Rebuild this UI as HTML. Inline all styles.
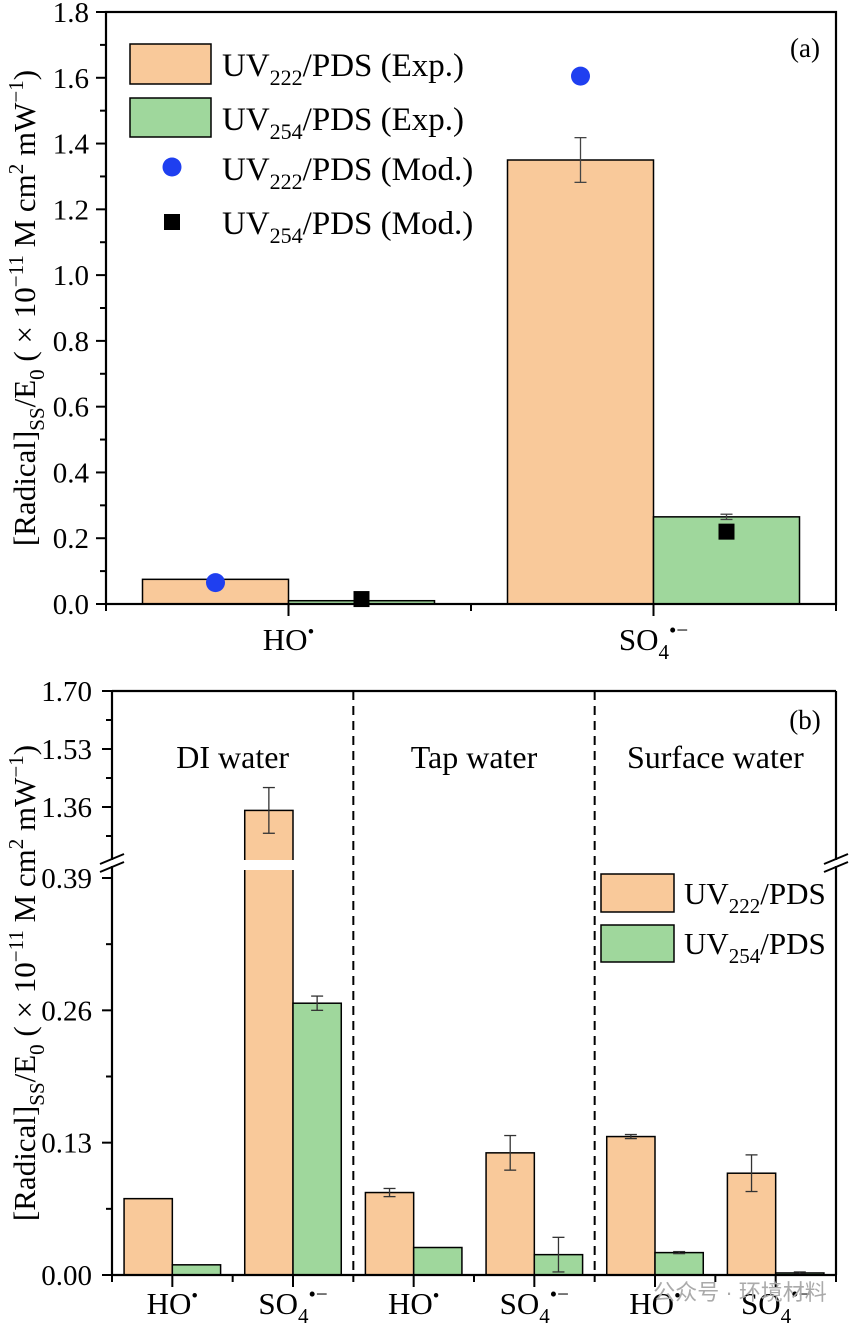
<!DOCTYPE html>
<html><head><meta charset="utf-8"><style>
html,body{margin:0;padding:0;background:#fff;}
svg{display:block;font-family:"Liberation Serif",serif;}
</style></head><body>
<svg id="chart" width="851" height="1325" viewBox="0 0 851 1325" xmlns="http://www.w3.org/2000/svg"></svg>
<script>
// Panel (a) data
const aCategories = ["HO", "SO4"];
const aExp222 = [0.075, 1.35];
const aExp222Err = [0, 0.068];
const aExp254 = [0.01, 0.265];
const aExp254Err = [0, 0.008];
const aMod222 = [0.065, 1.605];
const aMod254 = [0.015, 0.22];
const aTicks = ["0.0","0.2","0.4","0.6","0.8","1.0","1.2","1.4","1.6","1.8"];
// Panel (b) data
const bGroups = ["DI water", "Tap water", "Surface water"];
const bCategories = ["HO","SO4","HO","SO4","HO","SO4"];
const b222 = [0.075, 1.35, 0.081, 0.12, 0.136, 0.1];
const b222Err = [0, 0.067, 0.004, 0.017, 0.002, 0.018];
const b254 = [0.01, 0.267, 0.027, 0.02, 0.022, 0.002];
const b254Err = [0, 0.007, 0, 0.017, 0.001, 0.001];
const bLowTicks = ["0.00","0.13","0.26","0.39"];
const bHighTicks = ["1.36","1.53","1.70"];

const NS = "http://www.w3.org/2000/svg";
const svg = document.getElementById("chart");
const OR = "#f9c99a", GR = "#9fd79c";
function el(tag, attrs, parent){ const e=document.createElementNS(NS,tag); for(const k in attrs) e.setAttribute(k,attrs[k]); (parent||svg).appendChild(e); return e; }
function txt(x,y,html,size,anchor,parent){ const t=el("text",{x:x,y:y,"font-size":size,"text-anchor":anchor||"middle",fill:"#000"},parent); t.innerHTML=html; return t; }
const radLabel = {HO:'HO<tspan dy="-12" font-size="19">•</tspan>', SO4:'SO<tspan dy="9" font-size="21">4</tspan><tspan dy="-22" font-size="21">•−</tspan>'};
const titleHtml = '[Radical]<tspan dy="9" font-size="21">SS</tspan><tspan dy="-9">/E</tspan><tspan dy="9" font-size="21">0</tspan><tspan dy="-9"> ( × 10</tspan><tspan dy="-12" font-size="21">−11</tspan><tspan dy="12"> M cm</tspan><tspan dy="-12" font-size="21">2</tspan><tspan dy="12"> mW</tspan><tspan dy="-12" font-size="21">−1</tspan><tspan dy="12">)</tspan>';

// ---------- Panel (a) ----------
const ga = el("g",{});


const aL=106,aR=836,aT=12,aB=604;
const ya = v => aB - v/1.8*(aB-aT);
const aBand = (aR-aL)/aCategories.length;
const aCx = i => aL + aBand*(i+0.5);
const aBw = aBand*0.4;
aCategories.forEach((c,i)=>{
  const cx=aCx(i);
  const r1=el("rect",{x:cx-aBw,y:ya(aExp222[i]),width:aBw,height:aB-ya(aExp222[i]),fill:OR,stroke:"#000","stroke-width":1.5},ga);
  
  
  const r2=el("rect",{x:cx,y:ya(aExp254[i]),width:aBw,height:aB-ya(aExp254[i]),fill:GR,stroke:"#000","stroke-width":1.5},ga);
  
  
  [[cx-aBw/2,aExp222[i],aExp222Err[i]],[cx+aBw/2,aExp254[i],aExp254Err[i]]].forEach(([x,v,e])=>{
    if(e>0){ const g=el("g",{stroke:"#444","stroke-width":1.3},ga);
      
      
      el("line",{x1:x,x2:x,y1:ya(v+e),y2:ya(v-e)},g);
      el("line",{x1:x-6,x2:x+6,y1:ya(v+e),y2:ya(v+e)},g);
      el("line",{x1:x-6,x2:x+6,y1:ya(v-e),y2:ya(v-e)},g);}
  });
  const d=el("circle",{cx:cx-aBw/2,cy:ya(aMod222[i]),r:9.5,fill:"#1f3ff0"},ga);
  
  
  const s=el("rect",{x:cx+aBw/2-8,y:ya(aMod254[i])-8,width:16,height:16,fill:"#000"},ga);
  
  
  const l=txt(cx,650,radLabel[c],31,"middle",ga);
  
  
  el("line",{x1:cx,x2:cx,y1:aB,y2:aB+12,stroke:"#000","stroke-width":2},ga);
  el("line",{x1:aL+aBand*(i+1),x2:aL+aBand*(i+1),y1:aB,y2:aB+7,stroke:"#000","stroke-width":2},ga);
});
el("line",{x1:aL,x2:aL,y1:aB,y2:aB+7,stroke:"#000","stroke-width":2},ga);
aTicks.forEach((t,i)=>{
  const v=parseFloat(t), y=ya(v);
  el("line",{x1:aL-10,x2:aL,y1:y,y2:y,stroke:"#000","stroke-width":2},ga);
  if(i<aTicks.length-1) el("line",{x1:aL-6,x2:aL,y1:ya(v+0.1),y2:ya(v+0.1),stroke:"#000","stroke-width":2},ga);
  const tl=txt(aL-17,y+10,t,29,"end",ga);
  
  
});
const fa=el("rect",{x:aL,y:aT,width:aR-aL,height:aB-aT,fill:"none",stroke:"#000","stroke-width":2.2},ga);


const yta=txt(0,0,titleHtml,31,"middle",ga);
yta.setAttribute("transform","translate(35,308) rotate(-90)");


const la=el("g",{},ga);


el("rect",{x:130,y:44,width:81,height:40,fill:OR,stroke:"#000","stroke-width":1.5},la);
el("rect",{x:130,y:98,width:81,height:39,fill:GR,stroke:"#000","stroke-width":1.5},la);
el("circle",{cx:172,cy:167,r:9.5,fill:"#1f3ff0"},la);
el("rect",{x:164,y:214,width:16,height:16,fill:"#000"},la);
const lgA=['UV<tspan dy="9" font-size="22">222</tspan><tspan dy="-9">/PDS (Exp.)</tspan>','UV<tspan dy="9" font-size="22">254</tspan><tspan dy="-9">/PDS (Exp.)</tspan>','UV<tspan dy="9" font-size="22">222</tspan><tspan dy="-9">/PDS (Mod.)</tspan>','UV<tspan dy="9" font-size="22">254</tspan><tspan dy="-9">/PDS (Mod.)</tspan>'];
[76,130,180,234].forEach((y,i)=>{const t=txt(222,y,lgA[i],33,"start",la);  });
const pa=txt(805,57,"(a)",27,"middle",ga);



// ---------- Panel (b) ----------
const gb=el("g",{});


const bL=112,bR=836,bT=691,bB=1275,bBreakLo=866,bBreakHi=860;
const ylo = v => bB - v/0.39*(bB-878);
const yhi = v => 807 - (v-1.36)*(807-691)/0.34;
const yb = v => v>0.40 ? yhi(v) : ylo(v);
const bBand=(bR-bL)/bCategories.length, bBw=bBand*0.4;
const bCx = i => bL + bBand*(i+0.5);
bCategories.forEach((c,i)=>{
  const cx=bCx(i);
  const r1=el("rect",{x:cx-bBw,y:yb(b222[i]),width:bBw,height:bB-yb(b222[i]),fill:OR,stroke:"#000","stroke-width":1.5},gb);
  
  
  if(b222[i]>0.40) el("rect",{x:cx-bBw-2,y:bBreakHi,width:bBw+4,height:bBreakLo-bBreakHi+4,fill:"#fff"},gb);
  const r2=el("rect",{x:cx,y:yb(b254[i]),width:bBw,height:bB-yb(b254[i]),fill:GR,stroke:"#000","stroke-width":1.5},gb);
  
  
  [[cx-bBw/2,b222[i],b222Err[i]],[cx+bBw/2,b254[i],b254Err[i]]].forEach(([x,v,e])=>{
    if(e>0){ const g=el("g",{stroke:"#333","stroke-width":1.3},gb);
      
      
      el("line",{x1:x,x2:x,y1:yb(v+e),y2:yb(v-e)},g);
      el("line",{x1:x-6,x2:x+6,y1:yb(v+e),y2:yb(v+e)},g);
      el("line",{x1:x-6,x2:x+6,y1:yb(v-e),y2:yb(v-e)},g);}
  });
  const l=txt(cx,1314,radLabel[c],31,"middle",gb);
  
  
  el("line",{x1:cx,x2:cx,y1:bB,y2:bB+12,stroke:"#000","stroke-width":2},gb);
  el("line",{x1:bL+bBand*(i+1),x2:bL+bBand*(i+1),y1:bB,y2:bB+7,stroke:"#000","stroke-width":2},gb);
});
el("line",{x1:bL,x2:bL,y1:bB,y2:bB+7,stroke:"#000","stroke-width":2},gb);
bGroups.forEach((g,i)=>{
  const cx=bL+bBand*(2*i+1);
  const t=txt(cx,768,g,32,"middle",gb);
  
  
  if(i>0){ const d=el("line",{x1:bL+bBand*2*i,x2:bL+bBand*2*i,y1:bT,y2:bB,stroke:"#000","stroke-width":2,"stroke-dasharray":"9,6"},gb);
    
    }
});
bLowTicks.forEach((t,i)=>{
  const v=parseFloat(t), y=ylo(v);
  el("line",{x1:bL-10,x2:bL,y1:y,y2:y,stroke:"#000","stroke-width":2},gb);
  if(i<bLowTicks.length-1) el("line",{x1:bL-6,x2:bL,y1:ylo(v+0.065),y2:ylo(v+0.065),stroke:"#000","stroke-width":2},gb);
  const tl=txt(bL-20,y+10,t,29,"end",gb);
  
  
});
bHighTicks.forEach((t,i)=>{
  const v=parseFloat(t), y=yhi(v);
  el("line",{x1:bL-10,x2:bL,y1:y,y2:y,stroke:"#000","stroke-width":2},gb);
  el("line",{x1:bL-6,x2:bL,y1:yhi(v-0.085),y2:yhi(v-0.085),stroke:"#000","stroke-width":2},gb);
  const tl=txt(bL-20,y+10,t,29,"end",gb);
  
  
});
el("line",{x1:bL,x2:bR,y1:bT,y2:bT,stroke:"#000","stroke-width":2.2},gb);
el("line",{x1:bL,x2:bR,y1:bB,y2:bB,stroke:"#000","stroke-width":2.2},gb);
[bL,bR].forEach(x=>{
  el("line",{x1:x,x2:x,y1:bT,y2:bBreakHi,stroke:"#000","stroke-width":2.2},gb);
  el("line",{x1:x,x2:x,y1:bBreakLo,y2:bB,stroke:"#000","stroke-width":2.2},gb);
  const bk=el("g",{stroke:"#000","stroke-width":2},gb);
  
  
  el("line",{x1:x-12,x2:x+12,y1:bBreakHi+4,y2:bBreakHi-6},bk);
  el("line",{x1:x-12,x2:x+12,y1:bBreakLo+6,y2:bBreakLo-4},bk);
});
const ytb=txt(0,0,titleHtml,31,"middle",gb);
ytb.setAttribute("transform","translate(35,983) rotate(-90)");


const lb=el("g",{},gb);


el("rect",{x:601,y:874,width:73,height:38,fill:OR,stroke:"#000","stroke-width":1.5},lb);
el("rect",{x:601,y:925,width:73,height:37,fill:GR,stroke:"#000","stroke-width":1.5},lb);
const t1=txt(684,904,'UV<tspan dy="9" font-size="21">222</tspan><tspan dy="-9">/PDS</tspan>',31,"start",lb);


const t2=txt(684,954,'UV<tspan dy="9" font-size="21">254</tspan><tspan dy="-9">/PDS</tspan>',31,"start",lb);


const pb=txt(805,729,"(b)",27,"middle",gb);


const wm=txt(740,1300,"公众号 · 环境材料",22,"middle",gb);
wm.setAttribute("fill","#aaa");
wm.setAttribute("font-family",'"Liberation Sans","Noto Sans CJK SC",sans-serif');


</script>
</body></html>
